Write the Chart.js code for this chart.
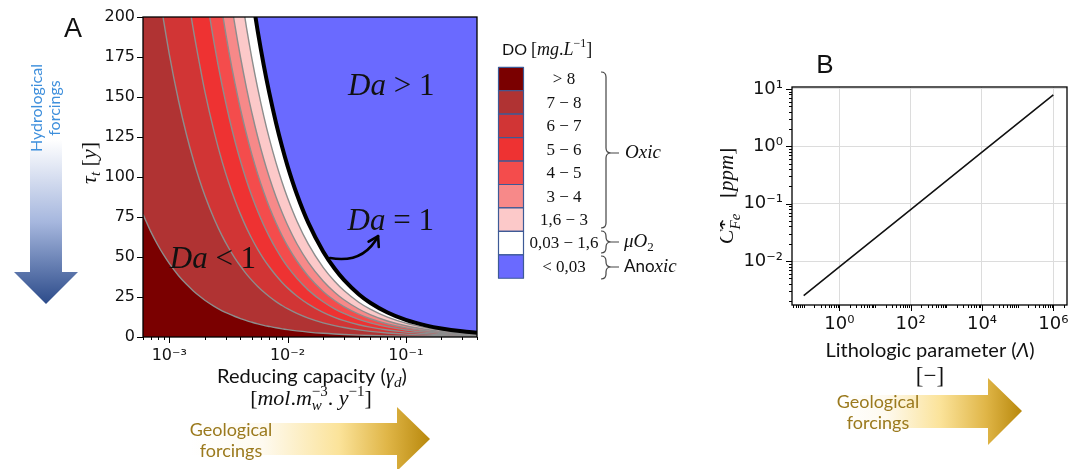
<!DOCTYPE html>
<html>
<head>
<meta charset="utf-8">
<title>DO regimes and lithologic parameter</title>
<script src="https://cdn.jsdelivr.net/npm/chart.js@4.4.1/dist/chart.umd.min.js"></script>
<style>
  html, body { margin: 0; padding: 0; background: #fff; }
  body { width: 1080px; height: 469px; position: relative; overflow: hidden; }
  .panel { position: absolute; top: 0; height: 469px; }
  #panelA { left: 0; width: 720px; }
  #panelB { left: 720px; width: 360px; }
</style>
</head>
<body>
<div class="panel" id="panelA"><canvas id="chartA"></canvas></div>
<div class="panel" id="panelB"><canvas id="chartB"></canvas></div>
<script>
// ---- Panel A: iso-DO boundaries, tau_t [y] against reducing capacity gamma_d ----
const gammaGrid = [0.0006, 0.0007, 0.0008, 0.0009, 0.001, 0.0012, 0.0014, 0.0016, 0.0018, 0.002,
  0.0024, 0.0028, 0.0032, 0.0036, 0.004, 0.0045, 0.005, 0.0056, 0.0063, 0.007, 0.008, 0.009,
  0.01, 0.012, 0.015, 0.02, 0.025, 0.03, 0.04, 0.05, 0.07, 0.1, 0.15, 0.2, 0.3, 0.4];
// boundary DO = 8 (between "> 8" and "7 - 8")
const tauDO8 = [76.7, 65.7, 57.5, 51.1, 46, 38.3, 32.9, 28.8, 25.6, 23, 19.2, 16.4, 14.4, 12.8, 11.5, 10.2,
  9.2, 8.2, 7.3, 6.6, 5.75, 5.1, 4.6, 3.83, 3.07, 2.3, 1.84, 1.53, 1.15, 0.92, 0.66, 0.46, 0.31, 0.23, 0.15, 0.115];
const tauDO7 = [295, 253, 221, 197, 177, 147.5, 126.4, 110.6, 98.3, 88.5, 73.8, 63.2, 55.3, 49.2, 44.3, 39.3,
  35.4, 31.6, 28.1, 25.3, 22.1, 19.7, 17.7, 14.75, 11.8, 8.85, 7.08, 5.9, 4.43, 3.54, 2.53, 1.77, 1.18, 0.885, 0.59, 0.443];
const tauDO6 = [512, 439, 384, 341, 307, 256, 219, 192, 171, 153.5, 128, 109.6, 95.9, 85.3, 76.8, 68.2,
  61.4, 54.8, 48.7, 43.9, 38.4, 34.1, 30.7, 25.6, 20.5, 15.35, 12.3, 10.2, 7.68, 6.14, 4.39, 3.07, 2.05, 1.54, 1.02, 0.77];
const tauDO5 = [733, 629, 550, 489, 440, 367, 314, 275, 244, 220, 183.3, 157.1, 137.5, 122.2, 110, 97.8,
  88, 78.6, 69.8, 62.9, 55, 48.9, 44, 36.7, 29.3, 22, 17.6, 14.7, 11, 8.8, 6.29, 4.4, 2.93, 2.2, 1.47, 1.1];
const tauDO4 = [950, 814, 713, 633, 570, 475, 407, 356, 317, 285, 237.5, 203.6, 178.1, 158.3, 142.5, 126.7,
  114, 101.8, 90.5, 81.4, 71.3, 63.3, 57, 47.5, 38, 28.5, 22.8, 19, 14.25, 11.4, 8.14, 5.7, 3.8, 2.85, 1.9, 1.43];
const tauDO3 = [1167, 1000, 875, 778, 700, 583, 500, 438, 389, 350, 291.7, 250, 218.8, 194.4, 175, 155.6,
  140, 125, 111.1, 100, 87.5, 77.8, 70, 58.3, 46.7, 35, 28, 23.3, 17.5, 14, 10, 7, 4.67, 3.5, 2.33, 1.75];
const tauDO16 = [1450, 1243, 1088, 967, 870, 725, 621, 544, 483, 435, 362.5, 310.7, 271.9, 241.7, 217.5, 193.3,
  174, 155.4, 138.1, 124.3, 108.8, 96.7, 87, 72.5, 58, 43.5, 34.8, 29, 21.75, 17.4, 12.43, 8.7, 5.8, 4.35, 2.9, 2.18];
// Da = 1 (anoxic limit)
const tauDa1 = [1783, 1529, 1338, 1189, 1070, 892, 764, 669, 594, 535, 445.8, 382.1, 334.4, 297.2, 267.5, 237.8,
  214, 191.1, 169.8, 152.9, 133.8, 118.9, 107, 89.2, 71.3, 53.5, 42.8, 35.7, 26.75, 21.4, 15.3, 10.7, 7.13, 5.35, 3.57, 2.68];

const gammaMajor = [1e-3, 1e-2, 1e-1];
const gammaMajorLabels = ['10⁻³', '10⁻²', '10⁻¹'];
const tauTicks = [0, 25, 50, 75, 100, 125, 150, 175, 200];
const doClasses = ['> 8', '7 − 8', '6 − 7', '5 − 6', '4 − 5', '3 − 4', '1,6 − 3', '0,03 − 1,6', '< 0,03'];

// ---- Panel B: C*_Fe against lithologic parameter ----
const lithoLambda = [0.1, 1, 100, 1e4, 1e6];
const cFe = [0.0025, 0.0079, 0.079, 0.79, 7.9];
const lambdaMajor = [1, 100, 1e4, 1e6];
const lambdaMajorLabels = ['10⁰', '10²', '10⁴', '10⁶'];
const cFeMajor = [0.01, 0.1, 1, 10];
const cFeMajorLabels = ['10⁻²', '10⁻¹', '10⁰', '10¹'];

// styles
const doColors = ['#7a0000', '#b03333', '#d13535', '#ee3232', '#f44c4c', '#f78989', '#fcc9c9', '#ffffff', '#6a6aff'];
const SERIF = '"Liberation Serif", "DejaVu Serif", serif';
const SANS = 'Lato, "Open Sans", sans-serif';
const DJV = '"DejaVu Sans", sans-serif';

Chart.defaults.font.family = DJV;
Chart.defaults.color = '#111';

function logTicks(min, max) {
  const out = [];
  for (let e = Math.floor(Math.log10(min)); e <= Math.ceil(Math.log10(max)); e++) {
    for (let m = 1; m < 10; m++) {
      const v = m * Math.pow(10, e);
      if (v >= min * 0.9999 && v <= max * 1.0001) out.push(v);
    }
  }
  return out;
}
function isIn(v, list) { return list.some(m => Math.abs(v / m - 1) < 1e-6); }
function labelFor(v, majors, labels) {
  const i = majors.findIndex(m => Math.abs(v / m - 1) < 1e-6);
  return i < 0 ? '' : labels[i];
}

// text with sub/superscripts: parts = [{t, f, dy, noAdv}]
function drawRich(ctx, parts, x, y, align) {
  let w = 0;
  for (const p of parts) { ctx.font = p.f; if (!p.noAdv) w += ctx.measureText(p.t).width; }
  let cx = align === 'center' ? x - w / 2 : (align === 'right' ? x - w : x);
  ctx.textAlign = 'left';
  ctx.textBaseline = 'alphabetic';
  for (const p of parts) {
    ctx.font = p.f;
    ctx.fillText(p.t, cx, y + (p.dy || 0));
    if (!p.noAdv) cx += ctx.measureText(p.t).width;
  }
}

function brace(ctx, x, y1, y2, ym, tail) {
  const w = 5;
  ctx.beginPath();
  ctx.moveTo(x, y1);
  ctx.quadraticCurveTo(x + w, y1, x + w, y1 + w);
  ctx.lineTo(x + w, ym - w);
  ctx.quadraticCurveTo(x + w, ym, x + 2 * w, ym);
  ctx.quadraticCurveTo(x + w, ym, x + w, ym + w);
  ctx.lineTo(x + w, y2 - w);
  ctx.quadraticCurveTo(x + w, y2, x, y2);
  ctx.moveTo(x + 2 * w, ym);
  ctx.lineTo(x + 2 * w + tail, ym);
  ctx.stroke();
}

// outward tick marks and the axes frame
function tickMarks(majorX, majorY) {
  return {
    id: 'tickMarks',
    afterDatasetsDraw(chart) {
      const ctx = chart.ctx, a = chart.chartArea;
      ctx.save();
      ctx.strokeStyle = '#000';
      ctx.lineWidth = 1;
      for (const id of ['x', 'y']) {
        const s = chart.scales[id];
        for (const t of s.ticks) {
          const major = isIn(t.value, id === 'x' ? majorX : majorY) || t.value === 0;
          const len = major ? 6 : 3;
          const p = Math.round(s.getPixelForValue(t.value)) + 0.5;
          ctx.beginPath();
          if (id === 'x') { ctx.moveTo(p, a.bottom); ctx.lineTo(p, a.bottom + len); }
          else { ctx.moveTo(a.left, p); ctx.lineTo(a.left - len, p); }
          ctx.stroke();
        }
      }
      ctx.lineWidth = 1.3;
      ctx.strokeRect(a.left, a.top, a.right - a.left, a.bottom - a.top);
      ctx.restore();
    }
  };
}

function arrowShape(ctx, pts, grad) {
  ctx.beginPath();
  ctx.moveTo(pts[0][0], pts[0][1]);
  for (let i = 1; i < pts.length; i++) ctx.lineTo(pts[i][0], pts[i][1]);
  ctx.closePath();
  ctx.fillStyle = grad;
  ctx.fill();
}

const annotA = {
  id: 'annotA',
  afterDraw(chart) {
    const ctx = chart.ctx, xs = chart.scales.x, ys = chart.scales.y;
    const P = (g, t) => [xs.getPixelForValue(g), ys.getPixelForValue(t)];
    ctx.save();
    ctx.fillStyle = '#111';

    // regime labels
    let p = P(0.0325, 151.3);
    drawRich(ctx, [{ t: 'Da', f: 'italic 31px ' + SERIF }, { t: ' > 1', f: '31px ' + SERIF }], p[0], p[1], 'left');
    p = P(0.0322, 66.9);
    drawRich(ctx, [{ t: 'Da', f: 'italic 31px ' + SERIF }, { t: ' = 1', f: '31px ' + SERIF }], p[0], p[1], 'left');
    p = P(0.00101, 43.1);
    drawRich(ctx, [{ t: 'Da', f: 'italic 31px ' + SERIF }, { t: ' < 1', f: '31px ' + SERIF }], p[0], p[1], 'left');

    // curved pointer to the Da = 1 line
    const s = P(0.0229, 49.4), c1 = P(0.0352, 46.9), c2 = P(0.048, 51.3), e = P(0.0583, 63.1);
    ctx.strokeStyle = '#000';
    ctx.lineWidth = 2.6;
    ctx.lineCap = 'round';
    ctx.lineJoin = 'round';
    ctx.beginPath();
    ctx.moveTo(s[0], s[1]);
    ctx.bezierCurveTo(c1[0], c1[1], c2[0], c2[1], e[0], e[1]);
    ctx.stroke();
    const ang = Math.atan2(e[1] - c2[1], e[0] - c2[0]);
    ctx.beginPath();
    ctx.moveTo(e[0] - 11 * Math.cos(ang - 0.55), e[1] - 11 * Math.sin(ang - 0.55));
    ctx.lineTo(e[0], e[1]);
    ctx.lineTo(e[0] - 11 * Math.cos(ang + 0.55), e[1] - 11 * Math.sin(ang + 0.55));
    ctx.stroke();

    // axis titles
    drawRich(ctx, [
      { t: 'Reducing capacity (', f: '20px ' + SANS },
      { t: 'γ', f: 'italic 21px ' + SERIF },
      { t: 'd', f: 'italic 15px ' + SERIF, dy: 4 },
      { t: ')', f: '20px ' + SANS }
    ], 312, 383, 'center');
    drawRich(ctx, [
      { t: '[', f: '22px ' + SERIF },
      { t: 'mol', f: 'italic 22px ' + SERIF },
      { t: '.', f: '22px ' + SERIF },
      { t: 'm', f: 'italic 22px ' + SERIF },
      { t: 'w', f: 'italic 15px ' + SERIF, dy: 5, noAdv: true },
      { t: '−3', f: '15px ' + SERIF, dy: -9 },
      { t: '. ', f: '22px ' + SERIF },
      { t: 'y', f: 'italic 22px ' + SERIF },
      { t: '−1', f: '15px ' + SERIF, dy: -9 },
      { t: ']', f: '22px ' + SERIF }
    ], 311, 405, 'center');

    ctx.save();
    ctx.translate(96, 163);
    ctx.rotate(-Math.PI / 2);
    drawRich(ctx, [
      { t: 'τ', f: 'italic 22px ' + SERIF },
      { t: 't', f: 'italic 15px ' + SERIF, dy: 4 },
      { t: ' [', f: '22px ' + SERIF },
      { t: 'y', f: 'italic 22px ' + SERIF },
      { t: ']', f: '22px ' + SERIF }
    ], 0, 0, 'center');
    ctx.restore();

    // panel letter
    ctx.font = '27px "Liberation Sans", sans-serif';
    ctx.textAlign = 'center';
    ctx.fillText('A', 73, 37);

    // DO legend
    drawRich(ctx, [
      { t: 'DO ', f: '16px ' + SANS },
      { t: '[', f: '18px ' + SERIF },
      { t: 'mg', f: 'italic 18px ' + SERIF },
      { t: '.', f: '18px ' + SERIF },
      { t: 'L', f: 'italic 18px ' + SERIF },
      { t: '−1', f: '12px ' + SERIF, dy: -8 },
      { t: ']', f: '18px ' + SERIF }
    ], 502, 55, 'left');
    const bx = 498.5, by = 67.3, bw = 25, bh = 23.44;
    for (let i = 0; i < doClasses.length; i++) {
      ctx.fillStyle = doColors[i];
      ctx.fillRect(bx, by + i * bh, bw, bh);
      ctx.strokeStyle = '#3d5a96';
      ctx.lineWidth = 1.2;
      ctx.strokeRect(bx, by + i * bh, bw, bh);
      ctx.fillStyle = '#111';
      drawRich(ctx, [{ t: doClasses[i], f: '17px ' + SERIF }], 564, by + i * bh + 17, 'center');
    }
    ctx.strokeStyle = '#444';
    ctx.lineWidth = 1.2;
    ctx.lineCap = 'butt';
    brace(ctx, 601, 72, 228, 153, 8);
    brace(ctx, 601, 231, 253, 242, 8);
    brace(ctx, 601, 256, 279, 267, 8);
    ctx.fillStyle = '#111';
    drawRich(ctx, [{ t: 'Oxic', f: 'italic 19px ' + SERIF }], 625, 158, 'left');
    drawRich(ctx, [{ t: 'μO', f: 'italic 19px ' + SERIF }, { t: '2', f: '13px ' + SERIF, dy: 4 }], 624, 247, 'left');
    drawRich(ctx, [{ t: 'Ano', f: '17px ' + SANS }, { t: 'xic', f: 'italic 19px ' + SERIF }], 624, 272, 'left');

    // hydrological forcing arrow
    let g = ctx.createLinearGradient(0, 140, 0, 304);
    g.addColorStop(0, '#ffffff');
    g.addColorStop(0.5, '#a6b7de');
    g.addColorStop(1, '#2c4b8a');
    arrowShape(ctx, [[30, 60], [62, 60], [62, 272], [78, 272], [46, 304], [14, 272], [30, 272]], g);
    ctx.save();
    ctx.translate(0, 108);
    ctx.rotate(-Math.PI / 2);
    ctx.fillStyle = '#3e8fdc';
    drawRich(ctx, [{ t: 'Hydrological', f: '16px ' + SANS }], 0, 42, 'center');
    drawRich(ctx, [{ t: 'forcings', f: '16px ' + SANS }], 0, 60, 'center');
    ctx.restore();

    // geological forcing arrow
    g = ctx.createLinearGradient(190, 0, 430, 0);
    g.addColorStop(0, '#ffffff');
    g.addColorStop(0.3, '#fefaf0');
    g.addColorStop(0.62, '#fbe39a');
    g.addColorStop(0.82, '#e0b648');
    g.addColorStop(1, '#b8880c');
    arrowShape(ctx, [[190, 423], [397, 423], [397, 407], [430, 439], [397, 471], [397, 455], [190, 455]], g);
    ctx.fillStyle = '#9b7a1e';
    drawRich(ctx, [{ t: 'Geological', f: '18px ' + SANS }], 231, 436, 'center');
    drawRich(ctx, [{ t: 'forcings', f: '18px ' + SANS }], 231, 457, 'center');
    ctx.restore();
  }
};

const common = {
  pointRadius: 0,
  cubicInterpolationMode: 'monotone',
  clip: 0
};
const boundaries = [tauDO8, tauDO7, tauDO6, tauDO5, tauDO4, tauDO3, tauDO16];
const datasetsA = boundaries.map((tau, i) => Object.assign({
  data: gammaGrid.map((gm, k) => ({ x: gm, y: tau[k] })),
  borderColor: '#8d8d8d',
  borderWidth: 1.4,
  backgroundColor: doColors[i],
  fill: 'start',
  order: i + 1
}, common));
datasetsA.push(Object.assign({
  data: gammaGrid.map((gm, k) => ({ x: gm, y: tauDa1[k] })),
  borderColor: '#000',
  borderWidth: 4,
  backgroundColor: doColors[8],
  fill: 'end',
  order: 0
}, common));

new Chart(document.getElementById('chartA'), {
  type: 'line',
  data: { datasets: datasetsA },
  options: {
    responsive: true,
    maintainAspectRatio: false,
    animation: false,
    devicePixelRatio: 1,
    layout: { padding: { top: 17, right: 243, bottom: 0, left: 0 } },
    plugins: {
      legend: { display: false },
      tooltip: { enabled: false },
      filler: { drawTime: 'beforeDatasetsDraw' }
    },
    elements: { line: { capBezierPoints: false } },
    scales: {
      x: {
        type: 'logarithmic',
        min: 0.0006,
        max: 0.4,
        border: { display: false },
        grid: { display: false, tickLength: 6 },
        afterBuildTicks: s => { s.ticks = logTicks(s.min, s.max).map(v => ({ value: v })); },
        ticks: {
          autoSkip: false, maxRotation: 0, minRotation: 0, padding: 3,
          font: { size: 16 },
          callback: v => labelFor(v, gammaMajor, gammaMajorLabels)
        },
        afterFit: s => { s.height = 132; s.paddingLeft = 0; s.paddingRight = 0; }
      },
      y: {
        type: 'linear',
        min: 0,
        max: 200,
        border: { display: false },
        grid: { display: false, tickLength: 6 },
        afterBuildTicks: s => { s.ticks = tauTicks.map(v => ({ value: v })); },
        ticks: { padding: 2, font: { size: 16 }, callback: v => String(v) },
        afterFit: s => { s.width = 143; s.paddingTop = 0; s.paddingBottom = 0; }
      }
    }
  },
  plugins: [tickMarks(gammaMajor, tauTicks), annotA]
});

// ---- Panel B ----
const annotB = {
  id: 'annotB',
  afterDraw(chart) {
    const ctx = chart.ctx;
    ctx.save();
    ctx.fillStyle = '#111';
    drawRich(ctx, [
      { t: 'Lithologic parameter (', f: '20px ' + SANS },
      { t: 'Λ', f: 'italic 20px ' + SANS },
      { t: ')', f: '20px ' + SANS }
    ], 210, 357, 'center');
    drawRich(ctx, [{ t: '[−]', f: '23px ' + SERIF }], 210, 383, 'center');

    ctx.save();
    ctx.translate(13, 196);
    ctx.rotate(-Math.PI / 2);
    drawRich(ctx, [
      { t: 'C', f: 'italic 22px ' + SERIF },
      { t: '*', f: 'bold 19px ' + DJV, dy: -3, noAdv: true },
      { t: 'Fe', f: 'italic 15px ' + SERIF, dy: 7 },
      { t: '   [', f: '21px ' + SERIF },
      { t: 'ppm', f: 'italic 21px ' + SERIF },
      { t: ']', f: '21px ' + SERIF }
    ], 0, 0, 'center');
    ctx.restore();

    ctx.font = '26px "Liberation Sans", sans-serif';
    ctx.textAlign = 'center';
    ctx.fillText('B', 105, 73);

    const g = ctx.createLinearGradient(120, 0, 302, 0);
    g.addColorStop(0, '#ffffff');
    g.addColorStop(0.25, '#fefaf0');
    g.addColorStop(0.55, '#fbe39a');
    g.addColorStop(0.8, '#e0b648');
    g.addColorStop(1, '#b8880c');
    arrowShape(ctx, [[120, 395], [268, 395], [268, 378], [302, 411], [268, 445], [268, 428], [120, 428]], g);
    ctx.fillStyle = '#9b7a1e';
    drawRich(ctx, [{ t: 'Geological', f: '18px ' + SANS }], 158, 408, 'center');
    drawRich(ctx, [{ t: 'forcings', f: '18px ' + SANS }], 158, 429, 'center');
    ctx.restore();
  }
};

new Chart(document.getElementById('chartB'), {
  type: 'line',
  data: {
    datasets: [{
      data: lithoLambda.map((l, i) => ({ x: l, y: cFe[i] })),
      borderColor: '#111',
      borderWidth: 1.6,
      pointRadius: 0,
      fill: false
    }]
  },
  options: {
    responsive: true,
    maintainAspectRatio: false,
    animation: false,
    devicePixelRatio: 1,
    layout: { padding: { top: 87, right: 13, bottom: 0, left: 0 } },
    plugins: { legend: { display: false }, tooltip: { enabled: false } },
    scales: {
      x: {
        type: 'logarithmic',
        min: 0.047,
        max: 2.42e6,
        border: { display: false },
        grid: {
          color: c => (c.tick && isIn(c.tick.value, lambdaMajor)) ? '#dcdcdc' : 'rgba(0,0,0,0)',
          tickColor: 'rgba(0,0,0,0)',
          tickLength: 6
        },
        afterBuildTicks: s => { s.ticks = logTicks(s.min, s.max).map(v => ({ value: v })); },
        ticks: {
          autoSkip: false, maxRotation: 0, minRotation: 0, padding: 3,
          font: { size: 18 },
          callback: v => labelFor(v, lambdaMajor, lambdaMajorLabels)
        },
        afterFit: s => { s.height = 164; s.paddingLeft = 0; s.paddingRight = 0; }
      },
      y: {
        type: 'logarithmic',
        min: 0.00171,
        max: 10.8,
        border: { display: false },
        grid: {
          color: c => (c.tick && isIn(c.tick.value, cFeMajor)) ? '#dcdcdc' : 'rgba(0,0,0,0)',
          tickColor: 'rgba(0,0,0,0)',
          tickLength: 6
        },
        afterBuildTicks: s => { s.ticks = logTicks(s.min, s.max).map(v => ({ value: v })); },
        ticks: {
          autoSkip: false, padding: 3,
          font: { size: 18 },
          callback: v => labelFor(v, cFeMajor, cFeMajorLabels)
        },
        afterFit: s => { s.width = 72; s.paddingTop = 0; s.paddingBottom = 0; }
      }
    }
  },
  plugins: [tickMarks(lambdaMajor, cFeMajor), annotB]
});
</script>
</body>
</html>
